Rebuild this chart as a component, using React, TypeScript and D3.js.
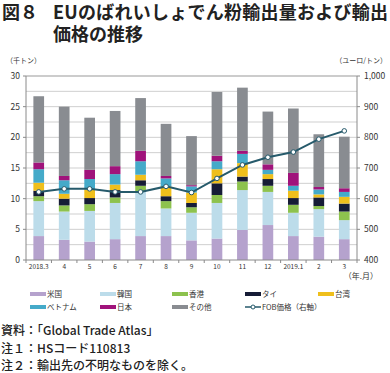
import React, { useEffect, useRef } from 'react';
import * as d3 from 'd3';

const months = ['2018.3', '4', '5', '6', '7', '8', '9', '10', '11', '12', '2019.1', '2', '3'];

// 千トン
const usa = [3.9, 3.3, 3.0, 3.4, 3.9, 3.9, 3.2, 3.5, 4.9, 5.7, 3.9, 3.8, 3.4];
const korea = [5.7, 4.6, 5.0, 5.9, 7.2, 4.5, 4.5, 5.8, 6.5, 5.4, 3.8, 4.5, 3.1];
const hongkong = [0.8, 1.0, 1.1, 0.9, 1.0, 1.2, 0.9, 1.3, 1.4, 1.0, 1.3, 0.5, 1.4];
const thai = [0.9, 1.1, 1.0, 1.2, 0.9, 0.8, 0.7, 1.9, 0.8, 1.1, 1.1, 1.4, 1.3];
const taiwan = [1.3, 0.8, 1.4, 0.9, 0.9, 1.6, 1.7, 2.3, 2.2, 0.8, 1.2, 0.5, 1.1];
const vietnam = [2.2, 2.2, 1.7, 1.7, 2.2, 1.3, 1.0, 1.3, 1.5, 0.7, 0.8, 0.8, 0.8];
const japan = [1.1, 0.7, 1.5, 1.3, 1.7, 0.4, 0.2, 0.9, 0.5, 0.9, 2.1, 0.4, 0.6];
const others = [10.8, 11.3, 8.5, 9.0, 8.6, 8.5, 8.0, 10.4, 10.3, 8.6, 10.5, 8.6, 8.4];

// ユーロ/トン
const fobPrice = [622, 632, 632, 622, 622, 640, 620, 666, 710, 735, 752, 794, 821];

const seriesNames = ['米国', '韓国', '香港', 'タイ', '台湾', 'ベトナム', '日本', 'その他'];
const seriesValues = [usa, korea, hongkong, thai, taiwan, vietnam, japan, others];
const seriesColors = ['#b5a2cd', '#bcdcea', '#8dc24e', '#161c36', '#efbf1c', '#45aac9', '#a0137b', '#898c91'];

const leftTicks = [0, 5, 10, 15, 20, 25, 30];
const rightTicks = [400, 500, 600, 700, 800, 900, 1000];

const FONT = '"Noto Sans CJK JP", "Noto Sans", sans-serif';

const drawChart = (node: SVGSVGElement) => {
  const svg = d3.select(node);
  svg.selectAll('*').remove();

  const left = 26;
  const right = 357;
  const top = 76;
  const bottom = 260;

  const x = d3.scaleBand().domain(months).range([left, right]).paddingInner(0.58).paddingOuter(0.29);
  const y = d3.scaleLinear().domain([0, 30]).range([bottom, top]);
  const y2 = d3.scaleLinear().domain([400, 1000]).range([bottom, top]);

  // title
  svg.append('text').attr('x', 2).attr('y', 19).attr('font-size', 18).attr('font-weight', 'bold')
    .attr('font-family', FONT).attr('fill', '#222').text('図８');
  svg.append('text').attr('x', 53).attr('y', 19).attr('font-size', 18).attr('font-weight', 'bold')
    .attr('font-family', FONT).attr('fill', '#222').attr('textLength', 335).text('EUのばれいしょでん粉輸出量および輸出');
  svg.append('text').attr('x', 53).attr('y', 41).attr('font-size', 18).attr('font-weight', 'bold')
    .attr('font-family', FONT).attr('fill', '#222').text('価格の推移');

  svg.append('text').attr('x', 6).attr('y', 63).attr('font-size', 7).attr('font-family', FONT)
    .attr('fill', '#333').text('（千トン）');
  svg.append('text').attr('x', 387).attr('y', 63).attr('font-size', 7).attr('font-family', FONT)
    .attr('text-anchor', 'end').attr('fill', '#333').text('（ユーロ/トン）');

  // grid every 2.5
  const grid = d3.range(2.5, 30.01, 2.5);
  svg.append('g').selectAll('line').data(grid).enter().append('line')
    .attr('x1', left).attr('x2', right)
    .attr('y1', d => y(d)).attr('y2', d => y(d))
    .attr('stroke', d => (d === 30 ? '#999' : '#cfcfcf')).attr('stroke-width', 1);

  // stacked bars
  const rows = months.map((m, i) => {
    const r: any = { month: m };
    seriesNames.forEach((s, j) => { r[s] = seriesValues[j][i]; });
    return r;
  });
  const stacked = d3.stack().keys(seriesNames)(rows);
  const color = d3.scaleOrdinal<string, string>().domain(seriesNames).range(seriesColors);

  svg.append('g').selectAll('g').data(stacked).enter().append('g')
    .attr('fill', d => color(d.key))
    .selectAll('rect').data(d => d).enter().append('rect')
    .attr('x', d => x(d.data.month as string) as number)
    .attr('width', x.bandwidth())
    .attr('y', d => y(d[1]))
    .attr('height', d => y(d[0]) - y(d[1]));

  // axes
  const axisColor = '#8a8a8a';
  svg.append('line').attr('x1', left).attr('x2', left).attr('y1', top).attr('y2', bottom)
    .attr('stroke', axisColor);
  svg.append('line').attr('x1', right).attr('x2', right).attr('y1', top).attr('y2', bottom)
    .attr('stroke', axisColor);
  svg.append('line').attr('x1', left).attr('x2', right).attr('y1', bottom).attr('y2', bottom)
    .attr('stroke', axisColor);

  const lt = svg.append('g');
  lt.selectAll('line').data(leftTicks).enter().append('line')
    .attr('x1', left - 3).attr('x2', left).attr('y1', d => y(d)).attr('y2', d => y(d)).attr('stroke', axisColor);
  lt.selectAll('text').data(leftTicks).enter().append('text')
    .attr('x', 20).attr('y', d => y(d) + 3).attr('text-anchor', 'end')
    .attr('font-size', 8.5).attr('font-family', FONT).attr('fill', '#333').text(d => d);

  const rt = svg.append('g');
  rt.selectAll('line').data(rightTicks).enter().append('line')
    .attr('x1', right).attr('x2', right + 3).attr('y1', d => y2(d)).attr('y2', d => y2(d)).attr('stroke', axisColor);
  rt.selectAll('text').data(rightTicks).enter().append('text')
    .attr('x', 364).attr('y', d => y2(d) + 3)
    .attr('font-size', 8.5).attr('font-family', FONT).attr('fill', '#333').text(d => d3.format(',')(d));

  const step = x.step();
  svg.append('g').selectAll('line').data(d3.range(months.length + 1)).enter().append('line')
    .attr('x1', i => left + i * step).attr('x2', i => left + i * step)
    .attr('y1', bottom).attr('y2', bottom + 3).attr('stroke', axisColor);
  svg.append('g').selectAll('text').data(months).enter().append('text')
    .attr('x', d => (x(d) as number) + x.bandwidth() / 2).attr('y', bottom + 9)
    .attr('text-anchor', 'middle').attr('font-size', 6.5).attr('font-family', FONT)
    .attr('fill', '#333').text(d => d);
  svg.append('text').attr('x', 378).attr('y', 279).attr('text-anchor', 'end')
    .attr('font-size', 8).attr('font-family', FONT).attr('fill', '#333').text('（年.月）');

  // price line
  const line = d3.line<number>()
    .x((d, i) => (x(months[i]) as number) + x.bandwidth() / 2)
    .y(d => y2(d));
  svg.append('path').datum(fobPrice).attr('d', line).attr('fill', 'none')
    .attr('stroke', '#265a6b').attr('stroke-width', 2);
  svg.append('g').selectAll('circle').data(fobPrice).enter().append('circle')
    .attr('cx', (d, i) => (x(months[i]) as number) + x.bandwidth() / 2)
    .attr('cy', d => y2(d)).attr('r', 2.3)
    .attr('fill', '#fff').attr('stroke', '#265a6b').attr('stroke-width', 1);

  // legend
  const legendX = [30, 100, 172, 245, 318];
  const legendItems = seriesNames.map((s, i) => ({ name: s, color: seriesColors[i], line: false }))
    .concat([{ name: 'FOB価格（右軸）', color: '#265a6b', line: true }]);
  const lg = svg.append('g').selectAll('g').data(legendItems).enter().append('g')
    .attr('transform', (d, i) => `translate(${legendX[i % 5]},${i < 5 ? 294 : 307})`);
  lg.filter(d => !d.line).append('rect').attr('x', 0).attr('y', -2).attr('width', 16).attr('height', 4)
    .attr('fill', d => d.color);
  lg.filter(d => d.line).append('line').attr('x1', 0).attr('x2', 16).attr('y1', 0).attr('y2', 0)
    .attr('stroke', d => d.color).attr('stroke-width', 1.5);
  lg.filter(d => d.line).append('circle').attr('cx', 8).attr('cy', 0).attr('r', 2)
    .attr('fill', '#fff').attr('stroke', d => d.color).attr('stroke-width', 1);
  lg.append('text').attr('x', 17).attr('y', 2.8).attr('font-size', 7.5).attr('font-family', FONT)
    .attr('fill', '#333').text(d => d.name);

  // notes
  const notes = ['資料：「Global Trade Atlas」', '注１：HSコード110813', '注２：輸出先の不明なものを除く。'];
  svg.append('g').selectAll('text').data(notes).enter().append('text')
    .attr('x', 1).attr('y', (d, i) => 335 + i * 17.5)
    .attr('font-size', 12).attr('font-family', FONT).attr('font-weight', 500)
    .attr('fill', '#222').text(d => d);
};

const App = () => {
  const ref = useRef<SVGSVGElement>(null);
  useEffect(() => {
    if (ref.current) drawChart(ref.current);
  }, []);
  return (
    <svg ref={ref} width={390} height={373}
      style={{ position: 'absolute', left: 0, top: 0, background: '#fff' }} />
  );
};

export default App;
